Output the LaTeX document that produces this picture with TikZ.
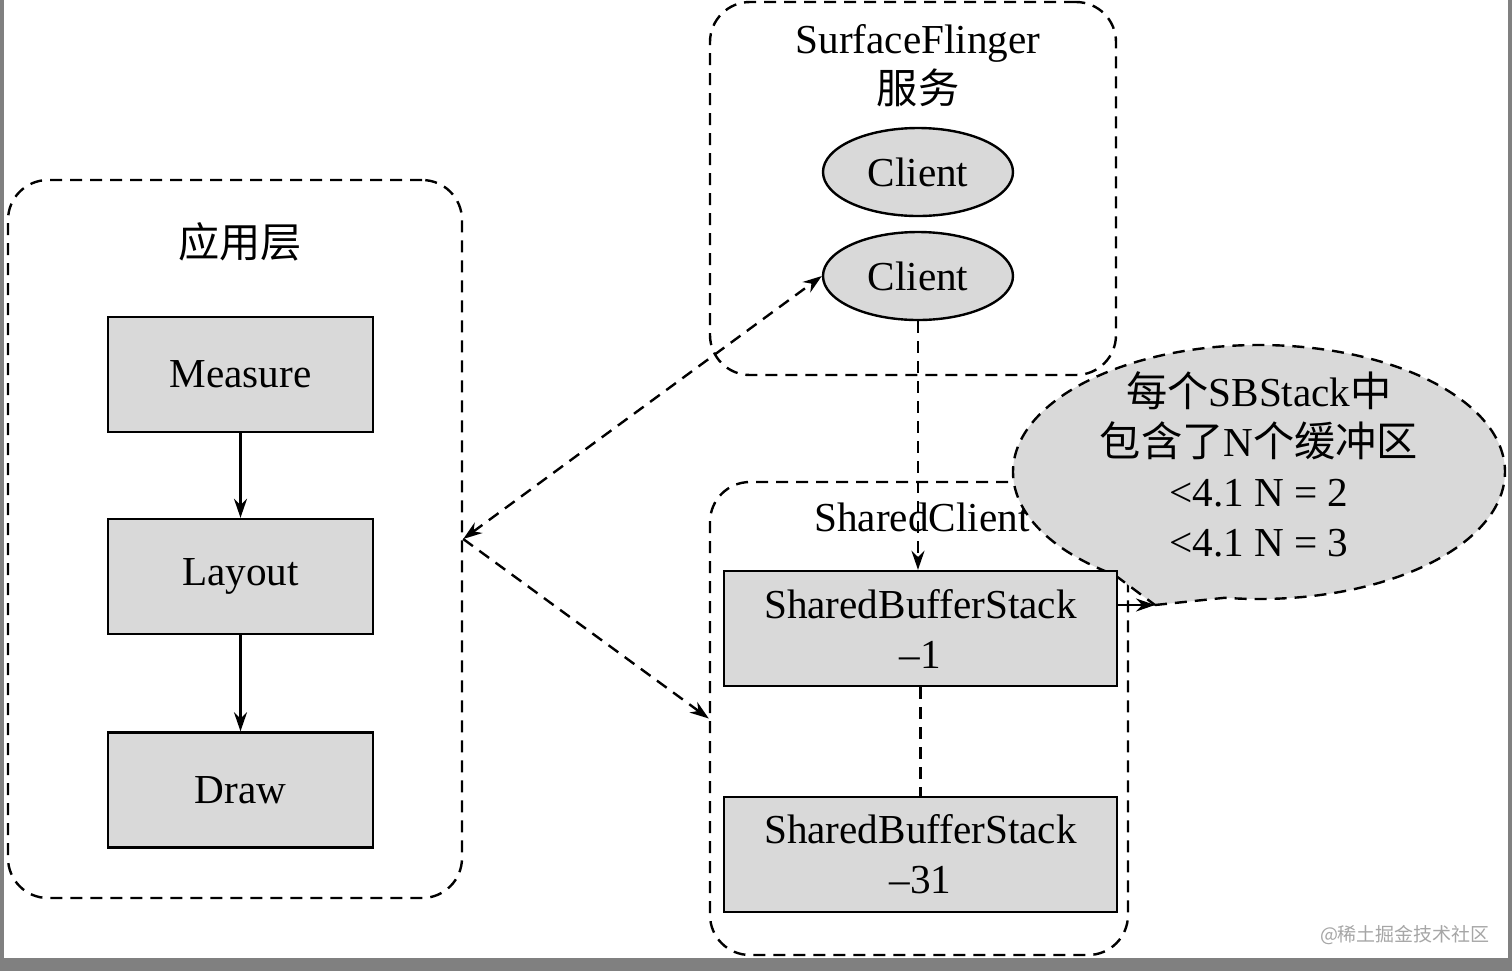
\documentclass[tikz,border=0pt]{standalone}
\usepackage{fontspec}
\setmainfont{Liberation Serif}
\newfontfamily\cjk{Noto Sans CJK SC}
\usetikzlibrary{arrows.meta, shapes.geometric, shapes.callouts}

\definecolor{boxgray}{HTML}{D9D9D9}
\definecolor{framegray}{HTML}{808080}

\tikzset{
  dline/.style={dash pattern=on 6pt off 4pt},
  grp/.style={draw, dline, rounded corners=20pt, inner sep=0pt},
  stepbox/.style={draw, fill=boxgray, minimum width=132.5pt, minimum height=57.5pt, inner sep=0pt, align=center},
  client/.style={draw, ellipse, fill=boxgray, minimum width=95pt, minimum height=44pt, inner sep=0pt},
  >={Stealth[length=9.5pt, width=6.5pt]},
}

\begin{document}
\begin{tikzpicture}[x=0.5pt, y=-0.5pt, line width=1.2pt, font=\fontsize{20.6}{25}\selectfont]
\fill[framegray] (0,0) rectangle (1512,971);
\fill[white] (4,0) rectangle (1508,958);
\useasboundingbox (0,0) rectangle (1512,971);

% groups
\node[grp, minimum width=227pt, minimum height=359pt] (appgrp) at (235,539) {};
\node[grp, minimum width=203pt, minimum height=186.5pt] (sfgrp) at (913,188.5) {};
\node[grp, minimum width=209pt, minimum height=236.5pt] (scgrp) at (919,718.5) {};
\node (apptitle) at (240,242) {\cjk 应用层};
\node[align=center] (sftitle) at (918,66) {SurfaceFlinger\\{\cjk 服务}};
\node (sctitle) at (922,517) {SharedClient};

% note
\coordinate (tip) at (1155,605);
\node[ellipse callout, callout absolute pointer={(tip)}, callout pointer arc=28, draw, dline, fill=boxgray, minimum width=246pt, minimum height=127pt] (note) at (1259,472) {};
\node[align=center, yshift=4pt] (notetext) at (note.center) {{\cjk 每个}SBStack{\cjk 中}\\{\cjk 包含了}N{\cjk 个缓冲区}\\<4.1 N = 2\\<4.1 N = 3};

% boxes
\node[stepbox] (measure) at (240.5,374.5) {Measure};
\node[stepbox] (layout) at (240.5,576.5) {Layout};
\node[stepbox] (draw) at (240.5,790) {Draw};
\node[client] (client1) at (918,172) {Client};
\node[client] (client2) at (918,276) {Client};
\node[stepbox, minimum width=196.5pt] (sbs1) at (920.5,628.5) {SharedBufferStack\\–1};
\node[stepbox, minimum width=196.5pt] (sbs31) at (920.5,854.5) {SharedBufferStack\\–31};

% connectors
\draw[->] (measure) -- (layout);
\draw[->] (layout) -- (draw);
\draw[dline, <->] (appgrp.east) -- (client2.west);
\draw[dline, ->] (appgrp.east) -- (scgrp.west);
\draw[dline, ->] (client2.south) -- (client2.south |- sbs1.north);
\draw[dline] (sbs1) -- (sbs31);
\draw[->] (sbs1.east |- tip) -- (tip);

\node[text=gray!70, font=\fontsize{9.5}{11}\selectfont] (mark) at (1405,935) {\cjk @稀土掘金技术社区};
\end{tikzpicture}
\end{document}
